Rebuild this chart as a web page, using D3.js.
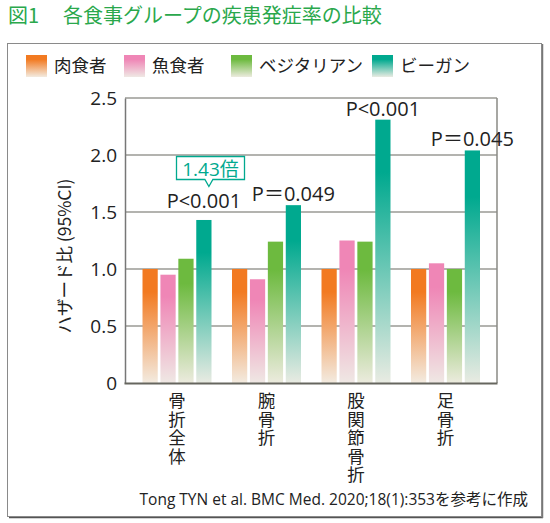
<!DOCTYPE html>
<html><head><meta charset="utf-8">
<script src="https://cdn.jsdelivr.net/npm/d3@7"></script>
<style>
html,body{margin:0;padding:0;background:#fff;}
svg{display:block;font-family:"Noto Sans CJK JP","Noto Sans",sans-serif;}
</style></head>
<body>
<svg id="chart" width="550" height="523"></svg>
<script>
const categories = ["骨折全体", "腕骨折", "股関節骨折", "足骨折"];
const seriesNames = ["肉食者", "魚食者", "ベジタリアン", "ビーガン"];
const meatEaters = [1.00, 1.00, 1.00, 1.00];
const fishEaters = [0.95, 0.91, 1.25, 1.05];
const vegetarians = [1.09, 1.24, 1.24, 1.00];
const vegans = [1.43, 1.56, 2.31, 2.04];
const pLabels = ["P<0.001", "P＝0.049", "P<0.001", "P＝0.045"];
const yTicks = [0, 0.5, 1.0, 1.5, 2.0, 2.5];
const yTickLabels = ["0", "0.5", "1.0", "1.5", "2.0", "2.5"];
const calloutText = "1.43倍";
const titleText = ["図1", "各食事グループの疾患発症率の比較"];
const yTitle = "ハザード比 (95%CI)";
const sourceText = "Tong TYN et al. BMC Med. 2020;18(1):353を参考に作成";

const seriesValues = [meatEaters, fishEaters, vegetarians, vegans];
const colors = ["#f27a21", "#ef86b6", "#6dba3f", "#00a98f"];
const paleEnd = ["#f3ebe0", "#efe8e4", "#ecebde", "#e9ebe2"];
const latinFont = "'Open Sans','Noto Sans CJK JP',sans-serif";

const svg = d3.select("#chart");
const defs = svg.append("defs");
colors.forEach((c, i) => {
  const g = defs.append("linearGradient").attr("id", "grad" + i)
    .attr("x1", 0).attr("y1", 0).attr("x2", 0).attr("y2", 1);
  g.append("stop").attr("offset", "0").attr("stop-color", c);
  g.append("stop").attr("offset", "0.2").attr("stop-color", c);
  g.append("stop").attr("offset", "1").attr("stop-color", paleEnd[i]);
});

// Title
const titleColor = "#2aa84c";
svg.append("text").attr("x", 8).attr("y", 23).attr("font-size", 20).attr("fill", titleColor).text(titleText[0]);
svg.append("text").attr("x", 63).attr("y", 23).attr("font-size", 20).attr("fill", titleColor).text(titleText[1]);

// Outer frame with shadow
svg.append("line").attr("x1", 9).attr("x2", 543).attr("y1", 517.5).attr("y2", 517.5).attr("stroke", "#555").attr("stroke-width", 1.5);
svg.append("line").attr("x1", 542.5).attr("x2", 542.5).attr("y1", 44).attr("y2", 518).attr("stroke", "#777").attr("stroke-width", 1.5);
svg.append("rect").attr("x", 7.5).attr("y", 43.5).attr("width", 534).attr("height", 473)
  .attr("fill", "none").attr("stroke", "#8a8a8a").attr("stroke-width", 1);

// Legend
const legendX = [26, 124, 231, 372];
seriesNames.forEach((s, i) => {
  svg.append("rect").attr("x", legendX[i]).attr("y", 55).attr("width", 21).attr("height", 22)
    .attr("fill", `url(#grad${i})`);
  svg.append("text").attr("x", legendX[i] + 28).attr("y", 72).attr("font-size", 17.5)
    .attr("fill", "#222").text(s);
});

// Scales
const plotLeft = 125, plotRight = 497, plotTop = 98, plotBottom = 383;
const y = d3.scaleLinear().domain([0, 2.5]).range([plotBottom, plotTop]);
const x0 = d3.scaleBand().domain(categories).range([132.25, 490.25]).padding(0);
const x1 = d3.scaleBand().domain(seriesNames).range([10.25, x0.bandwidth() - 10.25]).paddingInner(0.15).paddingOuter(0);

// Grid lines
const grid = svg.append("g");
grid.selectAll("line").data(yTicks.filter(t => t > 0)).join("line")
  .attr("x1", plotLeft).attr("x2", plotRight)
  .attr("y1", d => y(d)).attr("y2", d => y(d))
  .attr("stroke", "#9a9a94").attr("stroke-width", 1.5);
svg.append("line").attr("x1", plotRight).attr("x2", plotRight).attr("y1", plotTop).attr("y2", plotBottom)
  .attr("stroke", "#8a8a85").attr("stroke-width", 1.5);

// Bars
const groups = svg.append("g").selectAll("g").data(categories).join("g")
  .attr("transform", d => `translate(${x0(d)},0)`);
groups.selectAll("rect").data((d, ci) => seriesNames.map((s, si) => ({s, si, v: seriesValues[si][ci]}))).join("rect")
  .attr("x", d => x1(d.s)).attr("width", x1.bandwidth())
  .attr("y", d => y(d.v)).attr("height", d => y(0) - y(d.v))
  .attr("fill", d => `url(#grad${d.si})`);

// Axes
const yAxis = d3.axisLeft(y).tickValues(yTicks).tickFormat((d, i) => yTickLabels[i]).tickSize(0).tickPadding(8);
const yg = svg.append("g").attr("transform", `translate(${plotLeft},0)`).call(yAxis);
yg.select(".domain").attr("stroke", "#777").attr("stroke-width", 1.5);
yg.selectAll("text").attr("font-size", 19).attr("fill", "#222")
  .attr("font-family", latinFont);
svg.append("line").attr("x1", plotLeft - 0.5).attr("x2", plotRight + 0.5).attr("y1", plotBottom + 0.5).attr("y2", plotBottom + 0.5)
  .attr("stroke", "#66665f").attr("stroke-width", 2);

// Y title
svg.append("text").attr("transform", `translate(71,256) rotate(-90)`).attr("text-anchor", "middle")
  .attr("font-size", 17.5).attr("fill", "#222").text(yTitle);

// Category labels (vertical writing)
categories.forEach(c => {
  const cx = x0(c) + x0.bandwidth() / 2;
  svg.append("text").attr("x", cx).attr("y", 392)
    .attr("writing-mode", "vertical-rl").attr("style", "writing-mode:vertical-rl;text-orientation:upright")
    .attr("letter-spacing", 1).attr("font-size", 17.5).attr("fill", "#222").text(c);
});

// P labels
categories.forEach((c, ci) => {
  const cx = x0(c) + x1("ビーガン") + x1.bandwidth() / 2;
  const extra = ci === 0 ? 8 : 0;
  svg.append("text").attr("x", cx).attr("y", y(vegans[ci]) - 4 - extra)
    .attr("text-anchor", "middle").attr("font-size", 20).attr("font-family", latinFont)
    .attr("fill", "#222").text(pLabels[ci]);
});

// Callout
const cx0 = x0(categories[0]) + x1("ビーガン") + x1.bandwidth() / 2;
const bx = 176.5, by = 156.5, bw = 68, bh = 23;
const tipX = cx0 + 6;
const path = `M${bx},${by} H${bx + bw} V${by + bh} H${tipX + 3} L${tipX - 1},${by + bh + 7} L${tipX - 5},${by + bh} H${bx} Z`;
svg.append("path").attr("d", path).attr("fill", "#fff").attr("stroke", "#00a98f").attr("stroke-width", 1.3);
svg.append("text").attr("x", bx + bw / 2).attr("y", by + 19).attr("text-anchor", "middle")
  .attr("font-size", 19).attr("font-family", latinFont).attr("fill", "#00a98f").text(calloutText);

// Source
svg.append("text").attr("x", 528).attr("y", 505).attr("text-anchor", "end")
  .attr("font-size", 15.5).attr("font-family", latinFont).attr("fill", "#222").text(sourceText);
</script>
</body></html>
